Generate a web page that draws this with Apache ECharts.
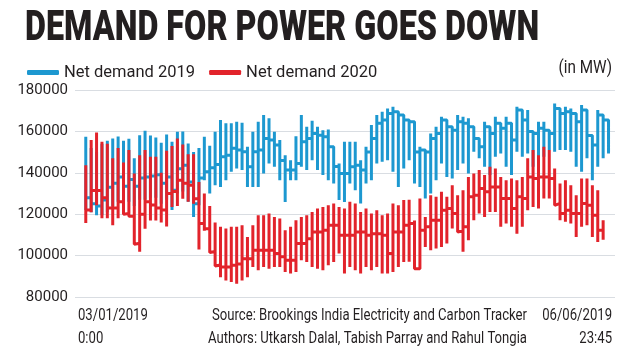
<!DOCTYPE html>
<html>
<head>
<meta charset="utf-8">
<script src="https://cdn.jsdelivr.net/npm/echarts@6/dist/echarts.min.js"></script>
<style>
html,body{margin:0;padding:0;background:#fff;}
#c{width:640px;height:357px;}
</style>
</head>
<body>
<div id="c"></div>
<script>
// ---- data (MW); each day: daily high, daily low, and the night-time level that links to the next day
var seriesNames = ['Net demand 2019', 'Net demand 2020'];
var xTickLabels = ['03/01/2019', '0:00', '06/06/2019', '23:45'];
var yTicks = [80000, 100000, 120000, 140000, 160000, 180000];

var high2019 = [157400,152000,150000,154000,155500,156600,157500,155500,156500,147000,158200,160300,158000,157000,154500,158500,155000,159800,160000,154200,150000,152000,
157400,153100,159800,165500,163900,163900,164700,164200,152600,159800,164700,167900,166300,159800,155800,148500,146100,157700,167900,162300,165200,162300,160600,160900,152600,144500,155000,155000,155000,146100,152600,163100,167900,169500,171100,171900,168700,165500,165500,155800,152600,
151000,159000,162200,167100,163900,163100,167900,167100,166300,160600,156600,164700,162200,167100,164700,167100,160600,171900,168700,170300,160600,164700,164700,161500,173500,171100,171900,171100,169500,172700,168700,158200,170300,168700,164700];
var low2019 = [122000,121000,119500,119500,121000,124000,126000,124000,126000,124000,127000,127000,128000,128000,125000,127000,122000,130000,131000,126000,118700,124300,
136400,130000,134000,133200,136400,140500,142100,141300,133200,133200,133200,139700,144500,142900,136400,125900,136400,136400,142900,141300,146100,141300,138900,136400,134800,126800,125900,134800,131600,125200,134800,136400,144500,145300,146100,140500,133200,142100,146100,134800,133200,
127600,130000,136400,144500,138000,137200,141300,144500,139700,150200,147000,142900,138900,147700,149300,142900,138900,150200,147700,149300,142900,144500,147700,151000,150200,151000,151000,150200,142900,140500,147000,136400,142900,147000,149300];
var night2019 = [128000,125000,124000,126800,133000,135000,138000,133500,136800,133500,137500,138000,138500,139000,135000,138000,131600,142000,143700,135500,125000,137500,
140500,142500,144000,147700,148500,151800,151000,150200,142900,150200,151000,156600,155800,153400,146000,141300,141300,144500,155000,156600,159000,158200,157400,152600,143000,139700,139700,142900,143700,141300,150000,156600,163900,165500,168700,169500,167900,165500,164700,150000,151000,
150000,156600,159000,165500,162200,160600,164700,163900,162200,156600,152600,162200,159000,163900,161500,163900,155800,170300,165500,160000,159000,161500,160600,159000,171100,168700,169500,168700,164700,170300,158000,153400,167900,165500,160000];

var high2020 = [143700,155800,159500,155000,154000,147000,152000,145000,151000,139700,148500,151000,147700,147700,140000,150700,153000,156600,153700,149000,149000,135500,130000,124000,116000,
113900,113100,113900,113900,114700,109000,114700,119500,119500,120300,118700,117900,112200,113900,117100,118700,119500,121100,122700,123500,124300,125200,123500,122700,126000,125200,121100,122700,120300,121900,119500,120300,125200,124300,126800,127000,117000,127600,
118700,129200,128400,130800,128400,134000,129200,131600,138000,139700,141300,138900,142900,142100,138000,136400,137200,136400,138000,147000,151000,148500,152600,151000,142100,134800,136400,134000,129200,137200,137200,134000,131600,117100];
var low2020 = [115800,121000,124300,118000,118000,114700,118000,120000,119000,105500,101800,113000,117000,117000,116000,114000,123500,124000,127500,126000,125000,103000,112000,101500,95000,
89600,88000,87200,86400,88000,89600,94500,92900,94500,93700,94500,94500,92100,91300,92100,97700,96900,94500,93700,92900,95300,96900,101000,91300,94500,92900,91300,94500,92900,94500,91300,91300,92100,94500,96900,97000,93700,93700,
104200,102600,103400,104200,105800,113100,111400,101800,107400,117100,120300,118700,121100,121100,113900,115500,113900,110600,113900,121900,123500,122700,127600,127600,124300,117100,116300,115500,109000,113900,114700,109000,106600,107700];
var night2020 = [122000,131500,131500,128000,123000,123000,126000,120300,119000,106000,120000,126000,124500,123000,122000,130000,131000,136400,135000,134000,127500,115500,113000,102000,95500,
94500,94500,95300,96000,98500,98500,102600,102600,102600,102600,101000,99400,97700,97700,105800,105800,108200,111400,111400,112200,114700,114700,109800,109800,109800,111400,111400,109800,110600,110600,109800,101000,111400,111400,114700,115500,93700,112200,
113900,117100,117100,121900,122700,120300,112000,113900,128400,129200,132400,130800,133200,133200,127600,127600,122700,128400,127600,138000,137200,138000,138000,137200,125200,120300,121900,120300,120300,125200,124300,119500,112200,112000];

// build the day-by-day trace: from previous night level up to the high, down to the low, back to the night level
function trace(high, low, night) {
  var pts = [];
  for (var i = 0; i < high.length; i++) {
    if (i > 0) pts.push([i, night[i - 1]]);
    pts.push([i, high[i]]);
    pts.push([i, low[i]]);
    if (i < high.length - 1) pts.push([i, night[i]]);
  }
  return pts;
}

var ink = '#231f20';
var blue = '#1d98d0';
var red = '#e2232b';
var font = 'Roboto, "Noto Sans", sans-serif';

var chart = echarts.init(document.getElementById('c'), null, {renderer: 'canvas'});
chart.setOption({
  animation: false,
  backgroundColor: '#ffffff',
  grid: {left: 75, right: 25, top: 90, bottom: 60, containLabel: false},
  legend: {
    left: 22, top: 59,
    itemWidth: 32, itemHeight: 5, itemGap: 14,
    icon: 'roundRect',
    textStyle: {fontFamily: font, fontSize: 16.5, color: ink},
    data: [
      {name: seriesNames[0], itemStyle: {color: blue}},
      {name: seriesNames[1], itemStyle: {color: red}}
    ]
  },
  xAxis: {
    type: 'value', min: -2, max: 98.2,
    show: false
  },
  yAxis: {
    type: 'value', min: yTicks[0], max: yTicks[yTicks.length - 1], interval: 20000,
    axisLine: {show: false}, axisTick: {show: false},
    axisLabel: {color: ink, fontFamily: font, fontSize: 15, margin: 7,
      formatter: function (v) { return String(v); }},
    splitLine: {lineStyle: {color: '#d9dde2', width: 1}}
  },
  series: [
    {
      name: seriesNames[0], type: 'line', data: trace(high2019, low2019, night2019),
      showSymbol: false, symbol: 'none', smooth: false, silent: true,
      color: blue,
      lineStyle: {color: blue, width: 3, cap: 'butt', join: 'bevel'},
      z: 2
    },
    {
      name: seriesNames[1], type: 'line', data: trace(high2020, low2020, night2020),
      showSymbol: false, symbol: 'none', smooth: false, silent: true,
      color: red,
      lineStyle: {color: red, width: 3, cap: 'butt', join: 'bevel'},
      z: 3
    }
  ],
  graphic: [
    {type: 'text', x: 25, y: 29, scaleX: 0.77,
     style: {text: 'DEMAND FOR POWER GOES DOWN', font: '900 42px ' + font, fill: ink, align: 'left', verticalAlign: 'middle'}},
    {type: 'text', x: 612, y: 68, scaleX: 0.85,
     style: {text: '(in MW)', font: '18px ' + font, fill: ink, align: 'right', verticalAlign: 'middle'}},
    {type: 'text', x: 78, y: 316, scaleX: 0.82,
     style: {text: xTickLabels[0], font: '16px ' + font, fill: ink, align: 'left', verticalAlign: 'middle'}},
    {type: 'text', x: 78, y: 339, scaleX: 0.82,
     style: {text: xTickLabels[1], font: '16px ' + font, fill: ink, align: 'left', verticalAlign: 'middle'}},
    {type: 'text', x: 612, y: 316, scaleX: 0.82,
     style: {text: xTickLabels[2], font: '16px ' + font, fill: ink, align: 'right', verticalAlign: 'middle'}},
    {type: 'text', x: 612, y: 339, scaleX: 0.82,
     style: {text: xTickLabels[3], font: '16px ' + font, fill: ink, align: 'right', verticalAlign: 'middle'}},
    {type: 'text', x: 527, y: 316, scaleX: 0.82,
     style: {text: 'Source: Brookings India Electricity and Carbon Tracker', font: '16px ' + font, fill: ink, align: 'right', verticalAlign: 'middle'}},
    {type: 'text', x: 527, y: 339, scaleX: 0.82,
     style: {text: 'Authors: Utkarsh Dalal, Tabish Parray and Rahul Tongia', font: '16px ' + font, fill: ink, align: 'right', verticalAlign: 'middle'}}
  ]
});
</script>
</body>
</html>
